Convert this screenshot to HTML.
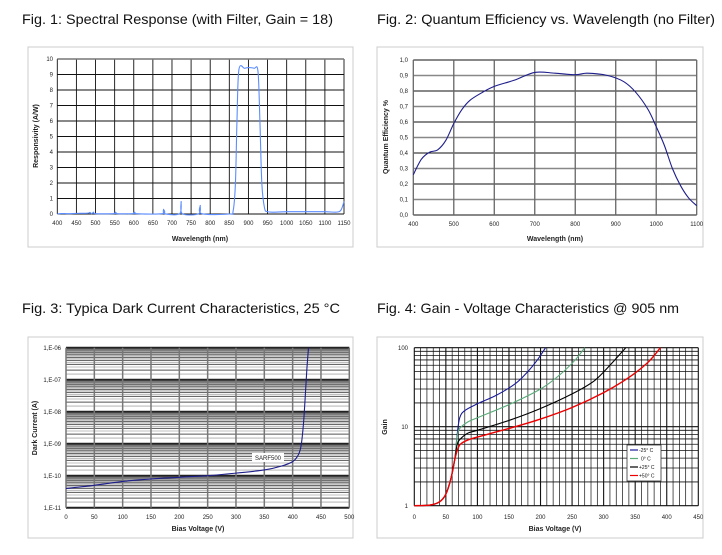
<!DOCTYPE html>
<html><head><meta charset="utf-8"><style>
html,body{margin:0;padding:0;background:#fff;width:722px;height:555px;overflow:hidden}
svg{display:block}
text{font-family:"Liberation Sans",sans-serif}
.t{font-size:14px;fill:#111}
.tk{font-size:6px;fill:#222}
.at{font-size:7px;font-weight:bold;fill:#222}
</style></head><body>
<svg id="s" width="722" height="555" viewBox="0 0 722 555" xmlns="http://www.w3.org/2000/svg">
<rect x="0" y="0" width="722" height="555" fill="#fff"/>
<text class="t" x="22" y="24" textLength="311" lengthAdjust="spacingAndGlyphs">Fig. 1:   Spectral Response (with Filter, Gain = 18)</text>
<text class="t" x="377" y="24" textLength="338" lengthAdjust="spacingAndGlyphs">Fig. 2:   Quantum Efficiency vs. Wavelength (no Filter)</text>
<text class="t" x="22" y="313" textLength="318" lengthAdjust="spacingAndGlyphs">Fig. 3:   Typica Dark Current Characteristics, 25 °C</text>
<text class="t" x="377" y="313" textLength="302" lengthAdjust="spacingAndGlyphs">Fig. 4:   Gain - Voltage Characteristics @ 905 nm</text>
<rect x="28" y="47" width="325" height="200" fill="#fff" stroke="#ccc"/>
<rect x="377" y="47" width="326" height="200" fill="#fff" stroke="#ccc"/>
<rect x="28" y="337" width="325" height="201" fill="#fff" stroke="#ccc"/>
<rect x="377" y="337" width="326" height="201" fill="#fff" stroke="#ccc"/>
<g id="g"></g>
<g class="tk" text-anchor="end">
<text x="53" y="216">0</text><text x="53" y="200.5">1</text><text x="53" y="185">2</text><text x="53" y="169.5">3</text><text x="53" y="154">4</text><text x="53" y="138.5">5</text><text x="53" y="123">6</text><text x="53" y="107.5">7</text><text x="53" y="92">8</text><text x="53" y="76.5">9</text><text x="53" y="61">10</text>
</g>
<g class="tk" text-anchor="middle">
<text x="57.3" y="225">400</text><text x="76.4" y="225">450</text><text x="95.5" y="225">500</text><text x="114.7" y="225">550</text><text x="133.8" y="225">600</text><text x="152.9" y="225">650</text><text x="172" y="225">700</text><text x="191.1" y="225">750</text><text x="210.2" y="225">800</text><text x="229.3" y="225">850</text><text x="248.5" y="225">900</text><text x="267.6" y="225">950</text><text x="286.7" y="225">1000</text><text x="305.8" y="225">1050</text><text x="324.9" y="225">1100</text><text x="344" y="225">1150</text>
</g>
<text class="at" x="200" y="241" text-anchor="middle">Wavelength (nm)</text>
<text class="at" x="0" y="0" text-anchor="middle" transform="translate(38,136) rotate(-90)">Responsivity (A/W)</text>
<g class="tk" text-anchor="end">
<text x="408" y="217">0,0</text><text x="408" y="201.5">0,1</text><text x="408" y="186">0,2</text><text x="408" y="170.5">0,3</text><text x="408" y="155">0,4</text><text x="408" y="139.5">0,5</text><text x="408" y="124">0,6</text><text x="408" y="108.5">0,7</text><text x="408" y="93">0,8</text><text x="408" y="77.5">0,9</text><text x="408" y="62">1,0</text>
</g>
<g class="tk" text-anchor="middle">
<text x="413.3" y="226">400</text><text x="453.8" y="226">500</text><text x="494.3" y="226">600</text><text x="534.8" y="226">700</text><text x="575.2" y="226">800</text><text x="615.7" y="226">900</text><text x="656.2" y="226">1000</text><text x="696.7" y="226">1100</text>
</g>
<text class="at" x="555" y="241" text-anchor="middle">Wavelength (nm)</text>
<text class="at" x="0" y="0" text-anchor="middle" transform="translate(388,137) rotate(-90)">Quantum Efficiency %</text>
<g class="tk" text-anchor="end">
<text x="61" y="350">1,E-06</text><text x="61" y="382">1,E-07</text><text x="61" y="414">1,E-08</text><text x="61" y="446">1,E-09</text><text x="61" y="478">1,E-10</text><text x="61" y="510">1,E-11</text>
</g>
<g class="tk" text-anchor="middle">
<text x="66" y="519">0</text><text x="94.3" y="519">50</text><text x="122.7" y="519">100</text><text x="151" y="519">150</text><text x="179.3" y="519">200</text><text x="207.7" y="519">250</text><text x="236" y="519">300</text><text x="264.3" y="519">350</text><text x="292.7" y="519">400</text><text x="321" y="519">450</text><text x="349.3" y="519">500</text>
</g>
<text class="at" x="198" y="531" text-anchor="middle">Bias Voltage (V)</text>
<text class="at" x="0" y="0" text-anchor="middle" transform="translate(37,428) rotate(-90)">Dark Current (A)</text>
<rect x="252" y="453" width="32" height="9" fill="#fff"/>
<text class="tk" x="268" y="460" text-anchor="middle">SARF500</text>
<g class="tk" text-anchor="end">
<text x="408" y="350">100</text><text x="408" y="429">10</text><text x="408" y="508">1</text>
</g>
<g class="tk" text-anchor="middle">
<text x="414.3" y="519">0</text><text x="445.9" y="519">50</text><text x="477.4" y="519">100</text><text x="509" y="519">150</text><text x="540.5" y="519">200</text><text x="572.1" y="519">250</text><text x="603.6" y="519">300</text><text x="635.2" y="519">350</text><text x="666.7" y="519">400</text><text x="698.3" y="519">450</text>
</g>
<text class="at" x="555" y="531" text-anchor="middle">Bias Voltage (V)</text>
<text class="at" x="0" y="0" text-anchor="middle" transform="translate(387,427) rotate(-90)">Gain</text>
<rect x="627" y="445" width="34" height="36" fill="#fff" stroke="#333" stroke-width="0.8"/>
<g stroke-width="1.2"><line x1="630" y1="450" x2="638" y2="450" stroke="#1a1a9a"/><line x1="630" y1="458.5" x2="638" y2="458.5" stroke="#5aaa7a"/><line x1="630" y1="467" x2="638" y2="467" stroke="#000"/><line x1="630" y1="475.5" x2="638" y2="475.5" stroke="#e00"/></g>
<g style="font-size:5px" fill="#111"><text x="639" y="452">-25° C</text><text x="641" y="460.5">0° C</text><text x="639" y="469">+25° C</text><text x="639" y="477.5">+50° C</text></g>
</svg>
<script>
var g=document.getElementById('g'),NS='http://www.w3.org/2000/svg';
function L(x1,y1,x2,y2,c,w){var e=document.createElementNS(NS,'line');e.setAttribute('x1',x1);e.setAttribute('y1',y1);e.setAttribute('x2',x2);e.setAttribute('y2',y2);e.setAttribute('stroke',c);e.setAttribute('stroke-width',w);g.appendChild(e);}
function P(pts,c,w){var d='M'+pts[0][0]+','+pts[0][1];for(var i=0;i<pts.length-1;i++){var p0=pts[i-1]||pts[i],p1=pts[i],p2=pts[i+1],p3=pts[i+2]||p2;d+='C'+(p1[0]+(p2[0]-p0[0])/6)+','+(p1[1]+(p2[1]-p0[1])/6)+' '+(p2[0]-(p3[0]-p1[0])/6)+','+(p2[1]-(p3[1]-p1[1])/6)+' '+p2[0]+','+p2[1];}var e=document.createElementNS(NS,'path');e.setAttribute('d',d);e.setAttribute('fill','none');e.setAttribute('stroke',c);e.setAttribute('stroke-width',w);g.appendChild(e);}
var x0=57.3,x1=344,yt=59,yb=214;
for(var i=0;i<=15;i++){var x=x0+(x1-x0)*i/15;L(x,yt,x,yb,'#111',0.9);}
for(var i=0;i<=10;i++){var y=yb-(yb-yt)*i/10;L(x0,y,x1,y,'#111',0.9);}
L(x0,yt,x1,yt,'#777',1.5);
function c1(w,v){return [x0+(w-400)*(x1-x0)/750,yb-v*(yb-yt)/10];}
var d1=[[400,0],[410,0.03],[430,0.02],[450,0.04],[480,0.05],[485,0.1],[490,0.02],[495,0.12],[500,0.02],[550,0.03],[552,0.12],[556,0.02],[600,0.03],[602,0.12],[606,0.02],[675,0.02],[678,0.3],[681,0.02],[720,0.02],[724,0.8],[727,0.02],[770,0.02],[774,0.55],[778,0.02],[850,0],[860,0.2],[866,2],[870,6],[875,9.3],[890,9.4],[900,9.45],[915,9.4],[925,9.2],[930,6],[935,2],[942,0.4],[950,0.15],[970,0.12],[1000,0.15],[1050,0.15],[1100,0.15],[1130,0.12],[1142,0.25],[1150,0.8]];
P(d1.map(function(p){return c1(p[0],p[1]);}),'#5b8cff',1.1);
var a0=413.3,a1=696.7,at=60,ab=215;
for(var i=0;i<=10;i++){var y=ab-(ab-at)*i/10;L(a0,y,a1,y,i%2?'#888':'#111',i%2?1.6:0.9);}
for(var i=0;i<=7;i++){var x=a0+(a1-a0)*i/7;L(x,at,x,ab,'#666',1.3);}
var d2=[[400,0.26],[420,0.36],[440,0.405],[460,0.42],[480,0.48],[500,0.59],[520,0.68],[540,0.74],[570,0.79],[600,0.83],[650,0.87],[700,0.92],[750,0.915],[800,0.905],[830,0.915],[880,0.9],[920,0.86],[950,0.79],[980,0.68],[1000,0.57],[1020,0.45],[1040,0.3],[1060,0.19],[1080,0.11],[1100,0.06]];
P(d2.map(function(p){return [a0+(p[0]-400)*(a1-a0)/700,ab-p[1]*(ab-at)];}),'#1e1e8c',1.1);
var b0=66,b1=349.3,bt=347.7,bb=507.7,dec=32;
for(var k=0;k<5;k++){var base=bb-k*dec;for(var m=1;m<10;m+=0.5){var y=base-Math.log10(m)*dec;L(b0,y,b1,y,m%1?'#aaa':'#555',m%1?0.8:1);} L(b0,base,b1,base,'#222',2);}
L(b0,bt,b1,bt,'#222',2);
for(var i=0;i<=10;i++){var x=b0+(b1-b0)*i/10;L(x,bt,x,bb,'#777',1.5);}
var d3=[[0,-10.4],[50,-10.3],[100,-10.18],[150,-10.1],[200,-10.05],[250,-10],[300,-9.92],[350,-9.82],[380,-9.7],[400,-9.56],[410,-9.35],[415,-9.05],[419,-8.4],[422,-7.6],[425,-6.7],[428,-6]];
P(d3.map(function(p){return [b0+p[0]*(b1-b0)/500,bb-(p[1]+11)*dec];}),'#1e1e8c',1.1);
var e0=414.3,e1=698.3,et=347.7,eb=505.7,D=79;
for(var v=0;v<=450;v+=10){var x=e0+v*(e1-e0)/450;L(x,et,x,eb,'#111',v%50?0.7:1.1);}
for(var k=0;k<2;k++){var base=eb-k*D;for(var m=1;m<10;m++){var y=base-Math.log10(m)*D;L(e0,y,e1,y,'#111',m==1?1.2:0.8);}}
L(e0,et,e1,et,'#111',1.2);
function c4(p){return [e0+p[0]*(e1-e0)/450,eb-Math.log10(p[1])*D];}
var low=[[0,1],[25,1.02],[40,1.12],[50,1.4],[58,2.2],[64,3.8]];
var s=[
['#1a1a9a',[[68,8],[72,13],[80,16],[100,19.5],[130,25],[160,35],[180,50],[195,70],[208,100]]],
['#5aaa7a',[[68,7.5],[72,9.5],[85,11.5],[100,13],[150,19],[200,30],[230,45],[255,70],[270,100]]],
['#000',[[68,6],[73,7],[85,8.3],[100,9],[150,12],[200,17],[250,26],[285,38],[310,60],[335,100]]],
['#e00',[[68,5],[73,6],[85,6.8],[100,7.4],[150,9.5],[200,12.5],[250,17.5],[300,27],[340,42],[370,65],[390,100]]]];
s.forEach(function(q){P(low.concat(q[1]).map(c4),q[0],q[0]=='#e00'?1.4:1.1);});
</script>
</body></html>
